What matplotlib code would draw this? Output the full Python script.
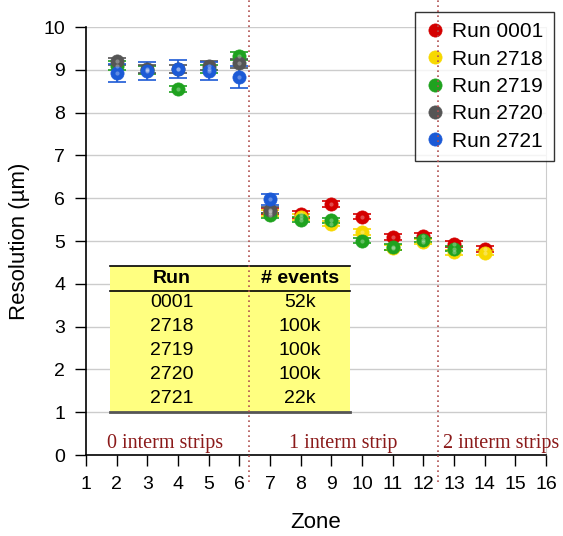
"""Spatial resolution per zone for five runs, with run summary table."""

import matplotlib
matplotlib.use("Agg")
import matplotlib.pyplot as plt
from matplotlib.patches import Rectangle

# ---- data ----
runs = ["0001", "2718", "2719", "2720", "2721"]
n_events = ["52k", "100k", "100k", "100k", "22k"]
colors = ["#d40000", "#f7d800", "#1fa21f", "#555555", "#1c5ad6"]

zones_0001 = [7, 8, 9, 10, 11, 12, 13, 14]
res_0001 = [5.70, 5.62, 5.87, 5.57, 5.10, 5.12, 4.93, 4.82]
err_0001 = [0.08, 0.08, 0.07, 0.06, 0.07, 0.06, 0.07, 0.07]

zones_2718 = [7, 8, 9, 10, 11, 12, 13, 14]
res_2718 = [5.65, 5.55, 5.40, 5.22, 4.84, 4.98, 4.74, 4.73]
err_2718 = [0.07, 0.07, 0.06, 0.07, 0.06, 0.06, 0.06, 0.06]

zones_2719 = [2, 3, 4, 5, 6, 7, 8, 9, 10, 11, 12, 13]
res_2719 = [9.10, 9.00, 8.55, 9.02, 9.32, 5.60, 5.50, 5.48, 5.01, 4.86, 5.03, 4.82]
err_2719 = [0.10, 0.10, 0.08, 0.10, 0.10, 0.06, 0.06, 0.06, 0.06, 0.06, 0.05, 0.06]

zones_2720 = [2, 3, 4, 5, 6, 7]
res_2720 = [9.20, 9.02, 9.02, 9.10, 9.15, 5.72]
err_2720 = [0.08, 0.10, 0.10, 0.10, 0.10, 0.07]

zones_2721 = [2, 3, 4, 5, 6, 7]
res_2721 = [8.93, 8.97, 9.02, 8.98, 8.83, 5.97]
err_2721 = [0.21, 0.21, 0.21, 0.21, 0.26, 0.12]

series = [
    (zones_0001, res_0001, err_0001),
    (zones_2718, res_2718, err_2718),
    (zones_2719, res_2719, err_2719),
    (zones_2720, res_2720, err_2720),
    (zones_2721, res_2721, err_2721),
]

boundaries = [6.33, 12.47]
region_labels = ["0 interm strips", "1 interm strip", "2 interm strips"]
region_x = [3.58, 9.4, 14.55]

plt.rcParams["font.family"] = ["Liberation Sans", "DejaVu Sans"]

fig = plt.figure(figsize=(5.63, 5.36), dpi=100)
ax = fig.add_axes([0.1528, 0.1511, 0.8170, 0.7985])

for (z, r, e), c, name in zip(series, colors, runs):
    ax.errorbar(z, r, yerr=e, fmt="none", ecolor=c, elinewidth=1.2,
                capsize=6.5, capthick=1.2, zorder=3)
    ax.plot(z, r, "o", color=c, markersize=9.5, markeredgecolor=c,
            markeredgewidth=0.5, zorder=4, label=f"Run {name}")
    # faint highlight so the markers look like shaded balls
    ax.plot(z, r, "o", color="white", alpha=0.3, markersize=3,
            markeredgewidth=0, zorder=5)

ax.set_xlim(1, 16)
ax.set_ylim(0, 10)
ax.set_xticks(range(1, 17))
ax.set_yticks(range(0, 11))
ax.tick_params(labelsize=14, length=8, width=1, direction="out", pad=7)
ax.yaxis.grid(True, color="#cccccc", linewidth=1)
ax.set_axisbelow(True)
ax.spines["top"].set_visible(False)
ax.spines["right"].set_color("#cccccc")
ax.spines["left"].set_linewidth(1.2)
ax.spines["bottom"].set_linewidth(1.2)

ax.set_xlabel("Zone", fontsize=16, labelpad=14)
ax.set_ylabel("Resolution (\u00b5m)", fontsize=16, labelpad=10)

# zone boundaries reaching past the axes
for b in boundaries:
    ax.plot([b, b], [-0.62, 10.65], linestyle=(0, (1, 2)), color="#b05050",
            linewidth=1.2, clip_on=False, zorder=10)

for lbl, xr in zip(region_labels, region_x):
    ax.text(xr, 0.28, lbl, ha="center", va="center", fontsize=14.5,
            family="Liberation Serif", color="#8b1a1a", clip_on=False)

# run summary table
ax.add_patch(Rectangle((1.78, 1.0), 7.83, 3.42, facecolor="#ffff80",
                       edgecolor="none", zorder=6))
ax.plot([1.78, 9.61], [4.42, 4.42], color="black", linewidth=1.2, zorder=7)
ax.plot([1.78, 9.61], [3.83, 3.83], color="black", linewidth=1.2, zorder=7)
ax.plot([1.78, 9.61], [1.0, 1.0], color="#555555", linewidth=2, zorder=7)
ax.text(3.8, 4.13, "Run", ha="center", va="center", fontsize=14,
        fontweight="bold", zorder=8)
ax.text(7.98, 4.13, "# events", ha="center", va="center", fontsize=14,
        fontweight="bold", zorder=8)
row_y = [3.57, 3.01, 2.45, 1.87, 1.31]
for ry, name, ev in zip(row_y, runs, n_events):
    ax.text(3.8, ry, name, ha="center", va="center", fontsize=14, zorder=8)
    ax.text(7.98, ry, ev, ha="center", va="center", fontsize=14, zorder=8)

leg = ax.legend(loc="upper right", bbox_to_anchor=(1.017, 1.035),
                fontsize=15, frameon=True, fancybox=False, handletextpad=0.3,
                borderpad=0.5, labelspacing=0.4, handlelength=1.0,
                borderaxespad=0)
leg.get_frame().set_edgecolor("black")
leg.get_frame().set_linewidth(1)
leg.set_zorder(9)

fig.savefig("out.png", dpi=100)
